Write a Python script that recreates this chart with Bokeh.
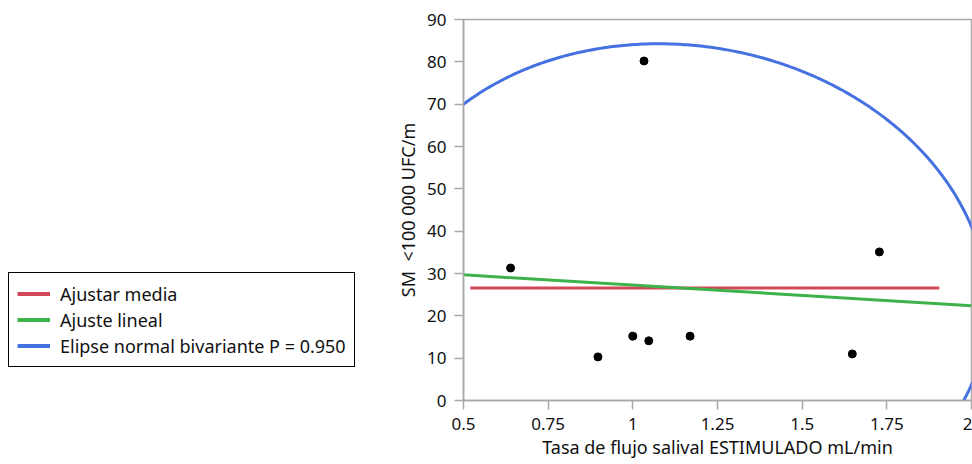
import numpy as np
from bokeh.plotting import figure
from bokeh.layouts import row
from bokeh.models import (Range1d, FixedTicker, Legend, LegendItem, Title)
from bokeh.embed import file_html
from bokeh.resources import INLINE

# ---- data ----
flow_x = [0.639, 0.897, 1.000, 1.033, 1.047, 1.169, 1.648, 1.728]
sm_y = [31.3, 10.3, 15.2, 80.2, 14.1, 15.2, 11.0, 35.1]
mean_line_x = [0.52, 1.905]
ellipse_p = 0.950
x_ticks = [0.5, 0.75, 1.0, 1.25, 1.5, 1.75, 2.0]
x_tick_labels = ["0.5", "0.75", "1", "1.25", "1.5", "1.75", "2"]
y_ticks = [0, 10, 20, 30, 40, 50, 60, 70, 80, 90]
x_lim = [0.5, 2.0]
y_lim = [0, 90]

x_title = "Tasa de flujo salival ESTIMULADO mL/min"
y_title = "SM\u00a0 <100 000 UFC/m"
legend_labels = ["Ajustar media", "Ajuste lineal",
                 "Elipse normal bivariante P = 0.950"]

FONT = "Noto Sans"
RED = "#d5485a"
GREEN = "#3db24a"
BLUE = "#4572e0"
AXIS_GRAY = "#a8a8a8"
TXT = "#111111"

xa = np.array(flow_x)
ya = np.array(sm_y)

# mean fit
mean_y = ya.mean()
# linear fit
slope, intercept = np.polyfit(xa, ya, 1)
fit_x = np.array(x_lim)
fit_y = intercept + slope * fit_x
# bivariate normal ellipse
cov = np.cov(xa, ya)
L = np.linalg.cholesky(cov)
c = -2.0 * np.log(1.0 - ellipse_p)
t = np.linspace(0, 2 * np.pi, 721)
circ = np.vstack([np.cos(t), np.sin(t)]) * np.sqrt(c)
ell = L @ circ
ell_x = xa.mean() + ell[0]
ell_y = ya.mean() + ell[1]

LEFT_W = 380

# ---- main plot ----
p = figure(width=972 - LEFT_W, height=464, output_backend="svg",
           toolbar_location=None,
           x_range=Range1d(*x_lim), y_range=Range1d(*y_lim),
           min_border_left=463 - LEFT_W, min_border_right=1,
           min_border_top=19, min_border_bottom=64)
p.background_fill_color = "white"
p.border_fill_color = "white"
p.outline_line_color = AXIS_GRAY
p.outline_line_width = 1.5
p.grid.visible = False

p.line(mean_line_x, [mean_y, mean_y], line_color=RED, line_width=3)
p.line(fit_x, fit_y, line_color=GREEN, line_width=3)
p.line(ell_x, ell_y, line_color=BLUE, line_width=3)
p.scatter(flow_x, sm_y, size=8, fill_color="black", line_color="black")

for ax in (p.xaxis[0], p.yaxis[0]):
    ax.axis_line_color = AXIS_GRAY
    ax.axis_line_width = 1.5
    ax.major_tick_line_color = AXIS_GRAY
    ax.major_tick_line_width = 1.5
    ax.major_tick_out = 9
    ax.major_tick_in = 0
    ax.minor_tick_line_color = None
    ax.major_label_text_font = FONT
    ax.major_label_text_font_size = "17px"
    ax.major_label_text_color = TXT
    ax.major_label_standoff = 8
    ax.axis_label_text_font = FONT
    ax.axis_label_text_font_size = "18px"
    ax.axis_label_text_font_style = "normal"
    ax.axis_label_text_color = TXT

p.xaxis[0].ticker = FixedTicker(ticks=x_ticks)
p.xaxis[0].major_label_overrides = {t_: s for t_, s in zip(x_ticks, x_tick_labels)}
p.yaxis[0].ticker = FixedTicker(ticks=y_ticks)
p.yaxis[0].axis_label = y_title
p.yaxis[0].axis_label_standoff = 4

xtitle = Title(text=x_title, align="center", offset=-12, standoff=0,
               text_font=FONT, text_font_size="18px", text_font_style="normal",
               text_color=TXT)
p.add_layout(xtitle, "below")

# ---- legend panel ----
lf = figure(width=LEFT_W, height=464, output_backend="svg",
            toolbar_location=None, x_range=Range1d(0, 1),
            y_range=Range1d(500, 501),
            min_border=0, min_border_left=0, min_border_right=0,
            min_border_top=0, min_border_bottom=0)
lf.axis.visible = False
lf.grid.visible = False
lf.outline_line_color = None
lf.background_fill_color = "white"
lf.border_fill_color = "white"
# same series as the main plot (fall outside this panel's range; only feed the legend)
d_mean = lf.line(mean_line_x, [mean_y, mean_y], line_color=RED, line_width=4)
d_fit = lf.line(fit_x, fit_y, line_color=GREEN, line_width=4)
d_ell = lf.line(ell_x, ell_y, line_color=BLUE, line_width=4)

legend = Legend(items=[LegendItem(label=legend_labels[0], renderers=[d_mean]),
                       LegendItem(label=legend_labels[1], renderers=[d_fit]),
                       LegendItem(label=legend_labels[2], renderers=[d_ell])],
                location=(8, 33))
legend.border_line_color = "black"
legend.border_line_alpha = 1.0
legend.border_line_width = 1
legend.background_fill_color = "white"
legend.background_fill_alpha = 1
legend.padding = 8
legend.margin = 0
legend.spacing = 1
legend.glyph_width = 33
legend.glyph_height = 25
legend.label_height = 25
legend.label_standoff = 10
legend.label_text_font = FONT
legend.label_text_font_size = "18px"
legend.label_text_color = TXT
lf.add_layout(legend, "center")

layout = row(lf, p, spacing=0)
open("out.html", "w").write(file_html(layout, INLINE))
